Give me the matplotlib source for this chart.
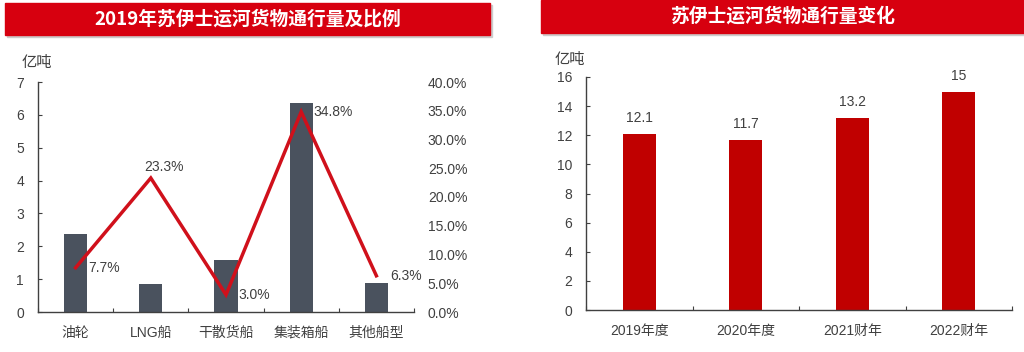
import numpy as np
import matplotlib
matplotlib.use("Agg")
import matplotlib.pyplot as plt
from matplotlib.patches import Rectangle

plt.rcParams['font.family'] = ['Liberation Sans', 'Noto Sans CJK SC', 'DejaVu Sans']

# left chart data
ship_types = ['油轮', 'LNG船', '干散货船', '集装箱船', '其他船型']
volume = [2.38, 0.85, 1.58, 6.35, 0.88]
share = [7.7, 23.3, 3.0, 34.8, 6.3]
share_labels = ['7.7%', '23.3%', '3.0%', '34.8%', '6.3%']

# right chart data
years = ['2019年度', '2020年度', '2021财年', '2022财年']
total = [12.1, 11.7, 13.2, 15]
total_labels = ['12.1', '11.7', '13.2', '15']

W, H = 1024, 352
fig = plt.figure(figsize=(W / 100, H / 100), dpi=100)

TXT = '#404040'
SPINE = '#404040'
BANNER = '#D7000F'


def ax_box(x0, y_top, x1, y_bot):
    return [x0 / W, 1 - y_bot / H, (x1 - x0) / W, (y_bot - y_top) / H]


def style(ax):
    for s in ['top', 'right']:
        ax.spines[s].set_visible(False)
    for s in ['left', 'bottom']:
        ax.spines[s].set_color(SPINE)
        ax.spines[s].set_linewidth(1.0)
    ax.tick_params(axis='y', direction='in', length=3, color=SPINE,
                   labelsize=10, labelcolor=TXT, pad=10)
    ax.tick_params(axis='x', which='major', direction='in', length=3, color=SPINE)
    ax.tick_params(axis='x', which='minor', length=0, labelsize=10, labelcolor=TXT, pad=10)


def banner(x0, y0, x1, y1, text):
    fig.patches.append(Rectangle((x0 / W + 0.002, 1 - y1 / H - 0.006), (x1 - x0) / W, (y1 - y0) / H,
                                 transform=fig.transFigure, color='#cccccc', zorder=0))
    fig.patches.append(Rectangle((x0 / W, 1 - y1 / H), (x1 - x0) / W, (y1 - y0) / H,
                                 transform=fig.transFigure, color=BANNER, zorder=1))
    fig.text((x0 + x1) / 2 / W, 1 - (y0 + y1) / 2 / H, text, color='white',
             fontsize=13.5, fontweight='bold', ha='center', va='center',
             family=['Noto Sans CJK SC'])


# ---- left chart ----
banner(5, 3, 490, 35, '2019年苏伊士运河货物通行量及比例')
ax1 = fig.add_axes(ax_box(38, 82, 414, 312))
x = np.arange(len(ship_types))
ax1.bar(x, volume, width=0.31, color='#4A525E')
ax1.set_xlim(-0.5, len(ship_types) - 0.5)
ax1.set_ylim(0, 7)
ax1.set_yticks(range(0, 8))
ax1.set_xticks(np.arange(-0.5, len(ship_types)))
ax1.set_xticklabels([])
ax1.set_xticks(x, minor=True)
ax1.set_xticklabels(ship_types, minor=True)
style(ax1)
fig.text(22 / W, 1 - 63 / H, '亿吨', fontsize=11, color=TXT, va='center')

ax2 = ax1.twinx()
ax2.plot(x, share, color='#D0101B', linewidth=2.5, solid_joinstyle='miter')
ax2.set_ylim(0, 40)
ax2.set_yticks(np.arange(0, 41, 5))
ax2.set_yticklabels([f'{v:.1f}%' for v in np.arange(0, 41, 5)])
for s in ['top', 'right', 'left', 'bottom']:
    ax2.spines[s].set_visible(False)
ax2.tick_params(axis='y', length=0, labelsize=10, labelcolor=TXT, pad=10)
offsets = [(9, 0), (-5, 8), (9, 0), (9, 0), (10, 0)]
for i, (v, lab) in enumerate(zip(share, share_labels)):
    dx, dy = offsets[i]
    ax2.annotate(lab, (x[i], v), xytext=(dx, dy), textcoords='offset points',
                 fontsize=10, color=TXT, ha='left', va='center')

# ---- right chart ----
banner(541, 0, 1024, 33, '苏伊士运河货物通行量变化')
ax3 = fig.add_axes(ax_box(586, 77, 1012, 310))
xr = np.arange(len(years))
ax3.bar(xr, total, width=0.31, color='#C00000')
ax3.set_xlim(-0.5, len(years) - 0.5)
ax3.set_ylim(0, 16)
ax3.set_yticks(range(0, 17, 2))
ax3.set_xticks(np.arange(-0.5, len(years)))
ax3.set_xticklabels([])
ax3.set_xticks(xr, minor=True)
ax3.set_xticklabels(years, minor=True)
style(ax3)
for i, (v, lab) in enumerate(zip(total, total_labels)):
    ax3.annotate(lab, (xr[i], v), xytext=(0, 6), textcoords='offset points',
                 fontsize=10, color=TXT, ha='center', va='bottom')
fig.text(555 / W, 1 - 60 / H, '亿吨', fontsize=11, color=TXT, va='center')

fig.savefig('out.png', dpi=100, facecolor='white')
